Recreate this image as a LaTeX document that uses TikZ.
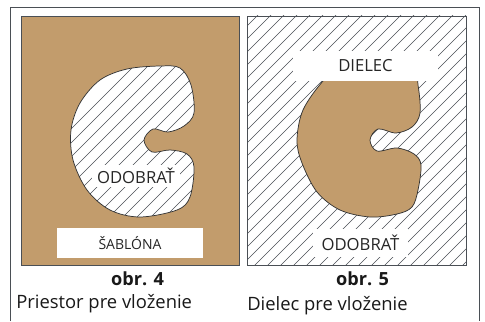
\documentclass[tikz,border=0pt]{standalone}
\usepackage{fontspec}
\setmainfont{Open Sans}
\definecolor{tan1}{HTML}{C29C6C}
\definecolor{edge1}{HTML}{4A4F55}
\tikzset{
  px/.style={x=0.75pt,y=-0.75pt},
  hatchline/.style={draw=edge1,line width=0.45pt},
  outline/.style={draw=black!80,line width=0.55pt},
  panel/.style={draw=edge1,line width=0.7pt},
  lab/.style={fill=white,inner sep=0pt,font=\fontsize{12.5pt}{14pt}\selectfont,text=black!85},
  labs/.style={fill=white,inner sep=0pt,font=\fontsize{10.5pt}{12pt}\selectfont,text=black!85},
  capb/.style={inner sep=0pt,font=\fontsize{13.6pt}{16pt}\selectfont\bfseries,text=black!90},
  capr/.style={inner sep=0pt,font=\fontsize{13.8pt}{16pt}\selectfont,text=black!90},
}
\newcommand{\shapeL}{plot[smooth cycle,tension=0.55] coordinates {(160,66)(180,68)(191,85)(194,113)(184,126)(168,132)(153,129)(144,140)(152,152)(170,150)(187,154)(194,167)(190,197)(177,210)(140,217)(110,210)(87,190)(73,160)(71,130)(80,103)(100,80)(127,69)}}
\newcommand{\shapeR}{plot[smooth cycle,tension=0.55] coordinates {(370,60)(412,66)(418,85)(420,113)(412,127)(396,133)(378,129)(370,140)(377,151)(397,148)(414,154)(421,165)(418,190)(412,207)(397,214)(370,217)(340,210)(317,192)(302,163)(297,140)(303,110)(323,81)(345,62)}}
\begin{document}
\begin{tikzpicture}[px]
\useasboundingbox (0,0) rectangle (485,321);
\fill[white] (0,0) rectangle (485,321);
\draw[panel] (10,321) -- (10,7) -- (479,7) -- (479,321);
% left panel
\fill[tan1] (21,16) rectangle (239,265);
\fill[white] \shapeL;
\begin{scope}
\clip \shapeL;
\foreach \i in {0,...,34} \draw[hatchline] (\i*14-100,300) -- (\i*14+200,0);
\end{scope}
\draw[outline] \shapeL;
\draw[panel] (21,16) rectangle (239,265);
\node[lab,minimum width=66pt,minimum height=17pt] (o1) at (136,176) {ODOBRAŤ};
\node[labs,minimum width=110pt,minimum height=22.5pt] (s1) at (130,243) {ŠABLÓNA};
\node[capb,anchor=base] (c4) at (137.5,285) {obr. 4};
\node[capr,anchor=base west] (p4) at (16,308) {Priestor pre vloženie};
% right panel
\begin{scope}
\clip (247,16) rectangle (466,265);
\foreach \i in {0,...,40} \draw[hatchline] (\i*13-40,300) -- (\i*13+260,0);
\end{scope}
\fill[tan1] \shapeR;
\draw[outline] \shapeR;
\draw[panel] (247,16) rectangle (466,265);
\node[lab,minimum width=109pt,minimum height=22pt] (d2) at (365.5,66) {DIELEC};
\node[lab,minimum width=71pt,minimum height=21.5pt] (o2) at (360.5,243) {ODOBRAŤ};
\node[capb,anchor=base] (c5) at (362.5,285) {obr. 5};
\node[capr,anchor=base west] (p5) at (247,310) {Dielec pre vloženie};
\end{tikzpicture}
\end{document}
